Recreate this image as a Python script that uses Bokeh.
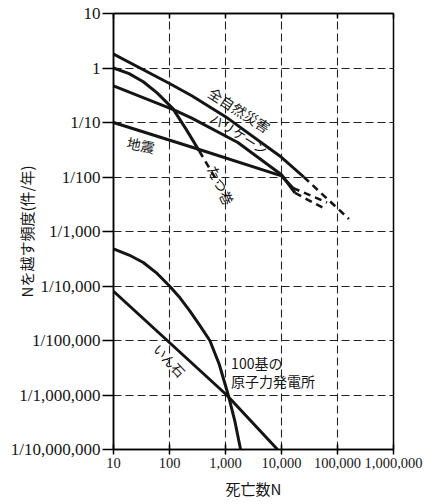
import math
from bokeh.plotting import figure
from bokeh.models import FixedTicker, LogAxis, Label
from bokeh.embed import file_html
from bokeh.resources import INLINE

# ---- data ----
x_ticks = [10, 100, 1000, 10000, 100000, 1000000]
x_tick_labels = ["10", "100", "1,000", "10,000", "100,000", "1,000,000"]
y_ticks = [10, 1, 0.1, 0.01, 0.001, 1e-4, 1e-5, 1e-6, 1e-7]
y_tick_labels = ["10", "1", "1/10", "1/100", "1/1,000", "1/10,000",
                 "1/100,000", "1/1,000,000", "1/10,000,000"]

natural_N = [10, 100, 250, 1000, 10000, 25000]
natural_f = [1.8, 0.52, 0.31, 0.128, 0.023, 0.01]
natural_ext_N = [25000, 160000]
natural_ext_f = [0.01, 0.0017]

hurricane_N = [10, 120, 250, 1660, 10000, 17400]
hurricane_f = [0.47, 0.17, 0.12, 0.043, 0.011, 0.0051]
hurricane_ext_N = [17400, 60000]
hurricane_ext_f = [0.0051, 0.0026]

quake_N = [10, 340, 10000, 16000]
quake_f = [0.1, 0.032, 0.0105, 0.0063]
quake_ext_N = [16000, 65000]
quake_ext_f = [0.0063, 0.0034]

tornado_N = [10, 19, 34, 60, 115, 200, 340]
tornado_f = [1.0, 0.79, 0.56, 0.35, 0.18, 0.074, 0.030]
tornado_ext_N = [340, 740]
tornado_ext_f = [0.030, 0.0078]

nuclear_N = [10, 19, 34, 60, 100, 155, 230, 340, 525, 770, 1120, 1480, 1860]
nuclear_f = [4.8e-4, 3.7e-4, 2.7e-4, 1.7e-4, 1e-4, 6e-5, 3.5e-5, 1.95e-5,
             1e-5, 3.7e-6, 1e-6, 3.2e-7, 1e-7]

meteor_N = [10, 1050, 8500]
meteor_f = [8e-5, 1e-6, 1e-7]

x_title = "死亡数N"
y_title = "Nを越す頻度(件/年)"

# ---- figure ----
p = figure(width=438, height=504, x_axis_type="log", y_axis_type="log",
           x_range=(10, 1e6), y_range=(1e-7, 10),
           output_backend="svg", toolbar_location=None,
           min_border_left=113, min_border_right=45,
           min_border_top=13, min_border_bottom=55)
p.background_fill_color = "white"
p.border_fill_color = "white"
p.outline_line_color = "black"
p.outline_line_width = 1.5

serif = "Liberation Serif"
jp = "Noto Sans CJK JP"
ink = "#151515"

xa = p.xaxis[0]
xa.ticker = FixedTicker(ticks=x_ticks, minor_ticks=[])
xa.major_label_overrides = {t: l for t, l in zip(x_ticks, x_tick_labels)}
xa.major_tick_in = 5
xa.major_tick_out = 5
xa.major_label_standoff = 3
xa.major_label_text_font_size = "14.5px"
xa.axis_label = x_title
xa.axis_label_standoff = 7

ya = p.yaxis[0]
ya.ticker = FixedTicker(ticks=y_ticks, minor_ticks=[])
ya.major_label_overrides = {t: l for t, l in zip(y_ticks, y_tick_labels)}
ya.major_tick_in = 0
ya.major_tick_out = 11
ya.major_label_standoff = 2
ya.major_label_text_font_size = "17px"
ya.axis_label = y_title
ya.axis_label_standoff = -29

for ax in (xa, ya):
    ax.axis_line_color = "black"
    ax.axis_line_width = 1.5
    ax.major_tick_line_color = "black"
    ax.major_tick_line_width = 1.5
    ax.minor_tick_line_color = None
    ax.major_label_text_font = serif
    ax.major_label_text_color = ink
    ax.axis_label_text_font = jp
    ax.axis_label_text_font_size = "15px"
    ax.axis_label_text_font_style = "normal"
    ax.axis_label_text_color = ink

top = LogAxis(ticker=FixedTicker(ticks=x_ticks, minor_ticks=[]),
              major_tick_in=5, major_tick_out=0, major_label_standoff=0,
              major_label_text_font_size="1px", major_label_text_color=None,
              axis_line_color="black", axis_line_width=1.5,
              major_tick_line_color="black", major_tick_line_width=1.5,
              minor_tick_line_color=None)
p.add_layout(top, "above")

for g in (p.xgrid[0], p.ygrid[0]):
    g.grid_line_color = "#222222"
    g.grid_line_width = 1.1
    g.grid_line_dash = "8 4"

for xs, ys in [(natural_N, natural_f), (hurricane_N, hurricane_f),
               (quake_N, quake_f), (tornado_N, tornado_f),
               (nuclear_N, nuclear_f), (meteor_N, meteor_f)]:
    p.line(xs, ys, line_color=ink, line_width=3, line_join="round")
for xs, ys in [(natural_ext_N, natural_ext_f), (hurricane_ext_N, hurricane_ext_f),
               (quake_ext_N, quake_ext_f), (tornado_ext_N, tornado_ext_f)]:
    p.line(xs, ys, line_color=ink, line_width=2.6, line_dash="7 5")


def lab(text, x, y, angle=0.0, align="center", size="14px"):
    p.add_layout(Label(x=x, y=y, text=text, angle=angle, text_align=align,
                       text_baseline="middle", text_font_size=size,
                       text_font=jp, text_color=ink))


lab("全自然災害", 1780, 0.170, angle=-0.57)
lab("ハリケーン", 1780, 0.062, angle=-0.56, size="13px")
lab("地震", 31, 0.039, angle=-0.2)
lab("たつ巻", 830, 0.0071, angle=-1.13)
lab("いん石", 100, 4.3e-6, angle=-0.82, size="13px")
lab("100基の", 1260, 3.9e-6, align="left")
lab("原子力発電所", 1260, 1.8e-6, align="left")

open("out.html", "w").write(file_html(p, INLINE))
